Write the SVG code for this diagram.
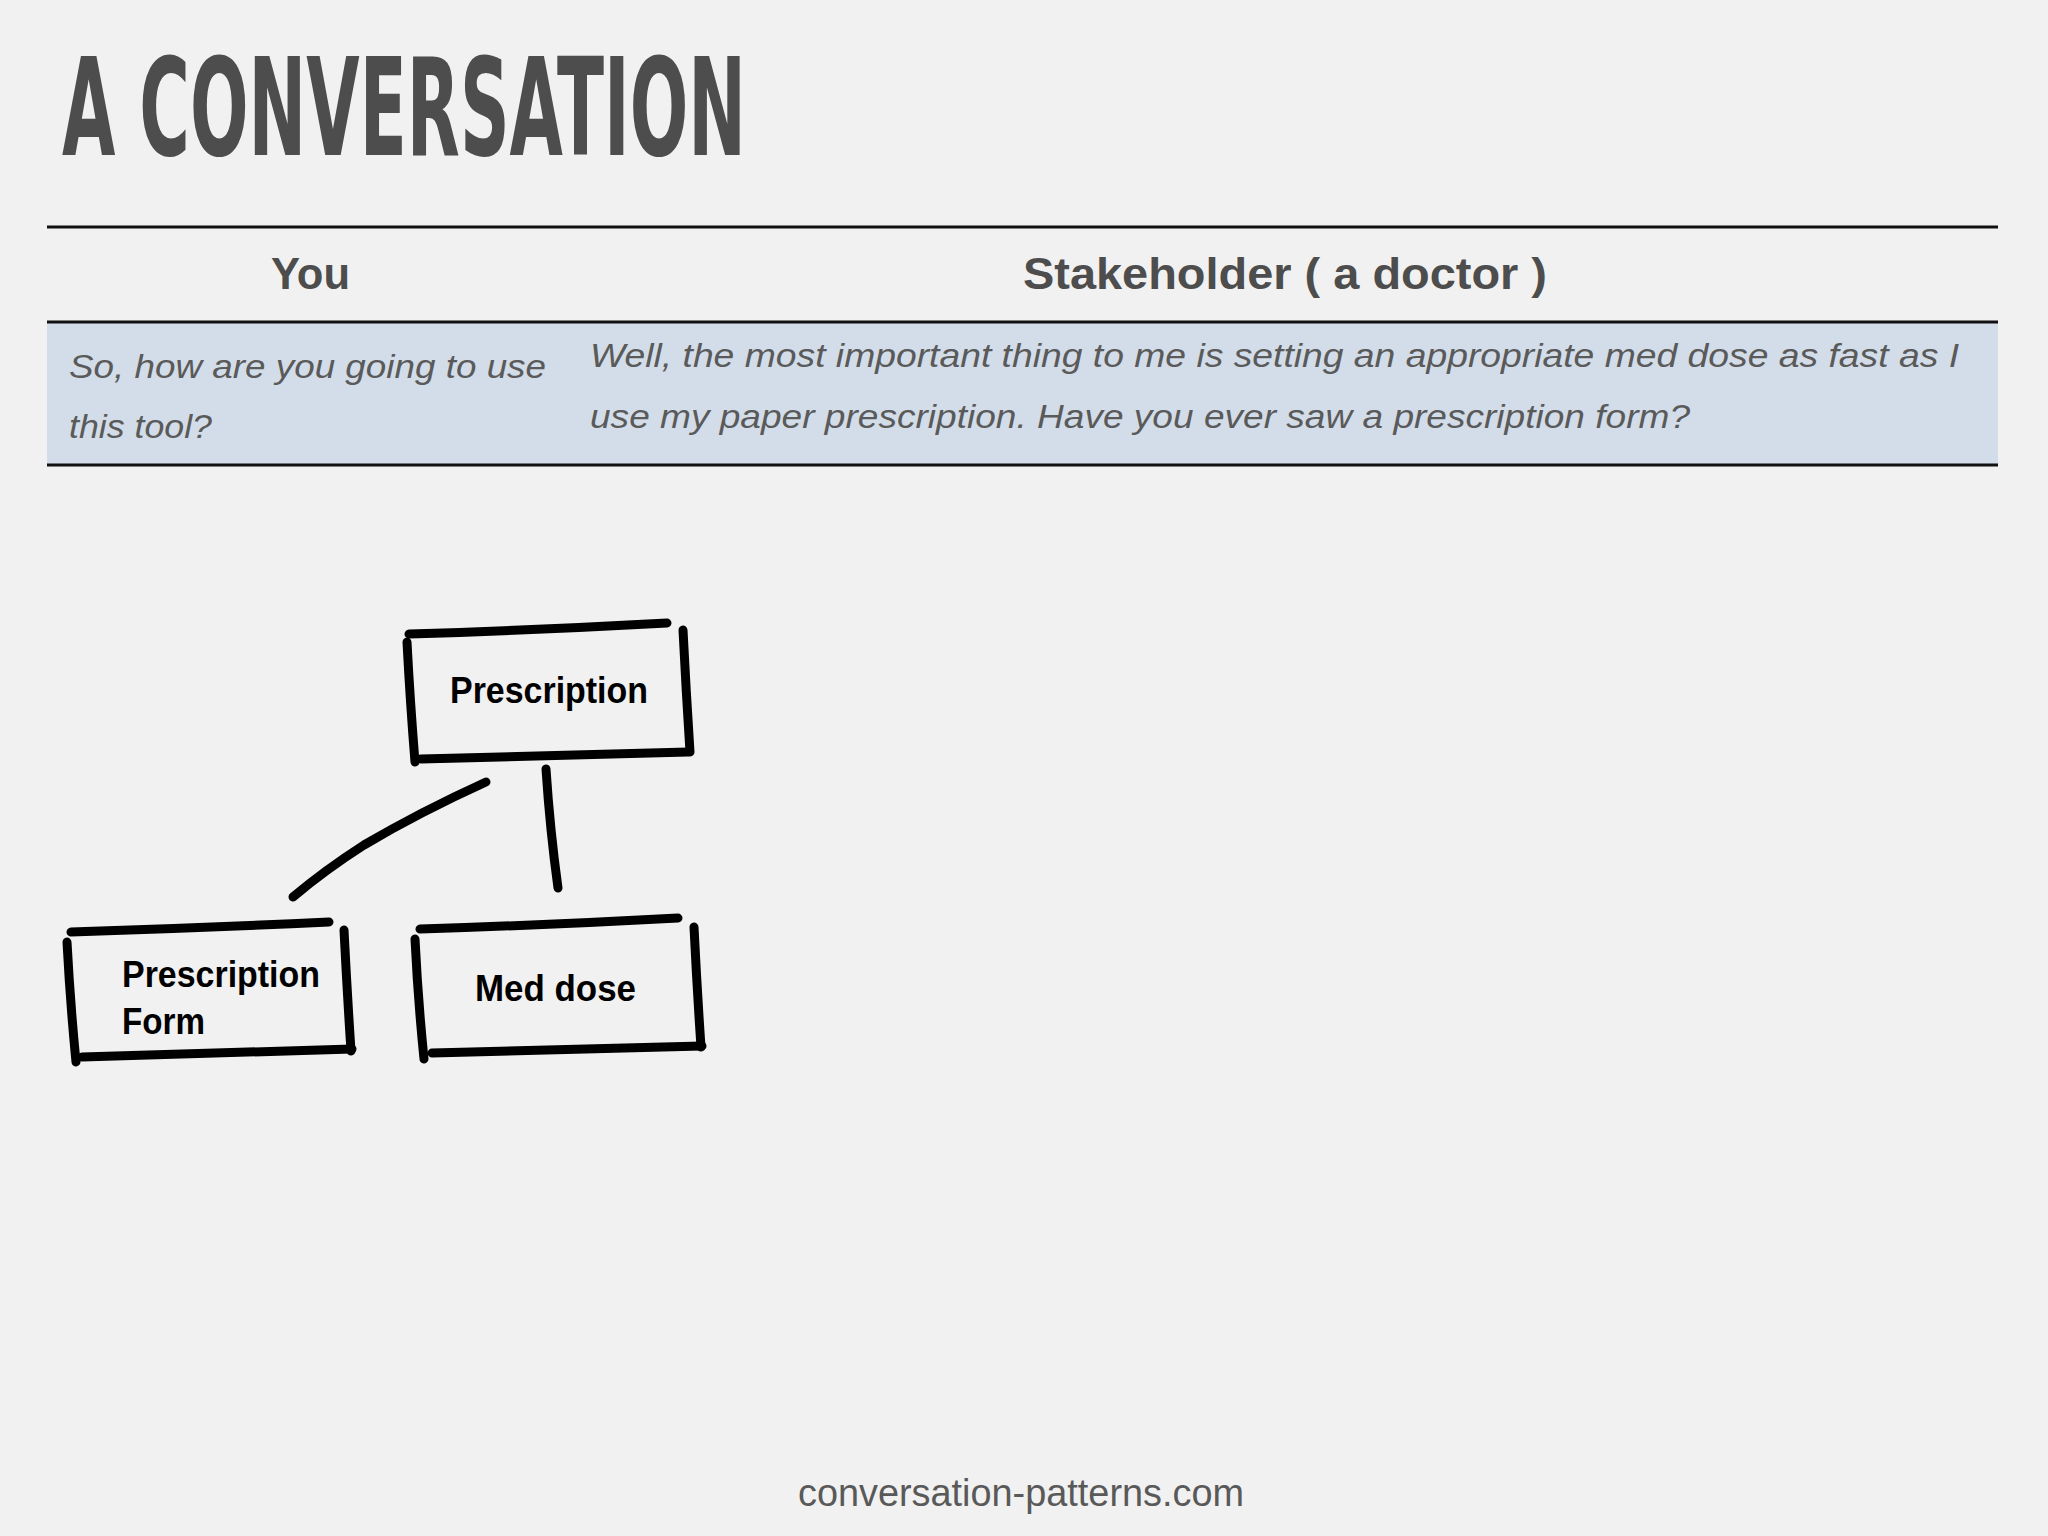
<svg xmlns="http://www.w3.org/2000/svg" width="2048" height="1536" viewBox="0 0 2048 1536">
<style>
.title{font-family:"Liberation Sans Narrow","DejaVu Sans Condensed","Liberation Sans",sans-serif;font-weight:bold;font-size:135px;fill:#4d4d4d}
.hdr{font-family:"Liberation Sans","DejaVu Sans",sans-serif;font-weight:bold;font-size:44px;fill:#4d4d4d}
.row{font-family:"Liberation Sans","DejaVu Sans",sans-serif;font-style:italic;font-size:33px;fill:#5a5a5a}
.foot{font-family:"Liberation Sans","DejaVu Sans",sans-serif;font-size:38px;fill:#595959}
.rule{stroke:#111;stroke-width:3}
.brush{stroke:#000;stroke-width:9;stroke-linecap:round;fill:none}
.lbl{font-family:"Liberation Sans","DejaVu Sans",sans-serif;font-weight:bold;font-size:36px;fill:#000}
</style>
<rect width="2048" height="1536" fill="#f1f1f1"/>
<text class="title" x="62" y="155" textLength="684" lengthAdjust="spacingAndGlyphs">A CONVERSATION</text>
<g id="table">
<rect x="47" y="322" width="1951" height="143" fill="#d3dde9"/>
<line class="rule" x1="47" y1="227" x2="1998" y2="227"/>
<line class="rule" x1="47" y1="322" x2="1998" y2="322"/>
<line class="rule" x1="47" y1="465" x2="1998" y2="465"/>
<text class="hdr" x="271" y="289" textLength="79" lengthAdjust="spacingAndGlyphs">You</text>
<text class="hdr" x="1023" y="289" textLength="524" lengthAdjust="spacingAndGlyphs">Stakeholder ( a doctor )</text>
<text class="row" x="69" y="378" textLength="477" lengthAdjust="spacingAndGlyphs">So, how are you going to use</text>
<text class="row" x="69" y="438" textLength="143" lengthAdjust="spacingAndGlyphs">this tool?</text>
<text class="row" x="590" y="367" textLength="1369" lengthAdjust="spacingAndGlyphs">Well, the most important thing to me is setting an appropriate med dose as fast as I</text>
<text class="row" x="590" y="428" textLength="1100" lengthAdjust="spacingAndGlyphs">use my paper prescription. Have you ever saw a prescription form?</text>
</g>
<g id="connectors">
<path class="brush" d="M486 782 Q420 812 364 845 Q325 870 293 897"/>
<path class="brush" d="M546 769 Q550 830 558 888"/>
</g>
<g id="node-prescription">
<path class="brush" d="M409 634 Q540 630 667 623"/>
<path class="brush" d="M407 642 Q410 700 415 762"/>
<path class="brush" d="M683 630 Q686 690 690 752"/>
<path class="brush" d="M421 759 Q560 755 688 752"/>
<text class="lbl" x="450" y="703" textLength="198" lengthAdjust="spacingAndGlyphs">Prescription</text>
</g>
<g id="node-prescription-form">
<path class="brush" d="M71 932 Q200 928 329 922"/>
<path class="brush" d="M67 942 Q70 1000 76 1062"/>
<path class="brush" d="M344 930 Q347 990 351 1051"/>
<path class="brush" d="M82 1057 Q220 1053 352 1049"/>
<text class="lbl" x="122" y="987" textLength="198" lengthAdjust="spacingAndGlyphs">Prescription</text>
<text class="lbl" x="122" y="1034" textLength="83" lengthAdjust="spacingAndGlyphs">Form</text>
</g>
<g id="node-med-dose">
<path class="brush" d="M420 929 Q550 925 678 918"/>
<path class="brush" d="M415 939 Q418 1000 424 1059"/>
<path class="brush" d="M694 927 Q697 988 701 1047"/>
<path class="brush" d="M432 1053 Q570 1050 702 1046"/>
<text class="lbl" x="475" y="1001" textLength="161" lengthAdjust="spacingAndGlyphs">Med dose</text>
</g>
<text class="foot" x="798" y="1506" textLength="446" lengthAdjust="spacingAndGlyphs">conversation-patterns.com</text>
</svg>
